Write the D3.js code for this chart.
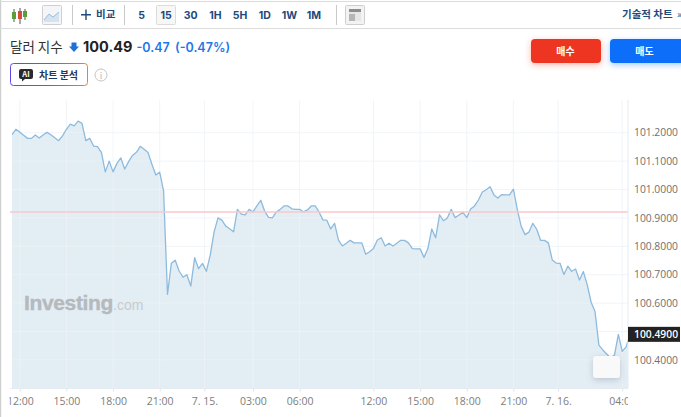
<!DOCTYPE html>
<html><head><meta charset="utf-8">
<script src="https://cdn.jsdelivr.net/npm/d3@7/dist/d3.min.js"></script>
<style>html,body{margin:0;padding:0;background:#fff;overflow:hidden}svg{display:block}
text{font-family:"Noto Sans CJK KR","Noto Sans",sans-serif}</style>
</head><body><div id="c"></div>
<script>
const prices=[101.193,101.212,101.202,101.191,101.180,101.180,101.192,101.181,101.192,101.201,101.193,101.182,101.172,101.189,101.212,101.230,101.224,101.241,101.233,101.172,101.180,101.153,101.151,101.131,101.062,101.100,101.062,101.092,101.111,101.072,101.098,101.120,101.131,101.152,101.142,101.130,101.089,101.051,101.061,100.995,100.631,
100.740,100.751,100.713,100.691,100.700,100.660,100.760,100.721,100.740,100.712,100.769,100.851,100.900,100.892,100.871,100.862,100.851,100.930,100.913,100.911,100.930,100.921,100.942,100.962,100.924,100.902,100.900,100.921,100.930,100.942,100.942,100.932,100.930,100.930,100.921,100.928,100.942,100.942,100.921,100.893,100.892,100.861,
100.881,100.822,100.801,100.811,100.821,100.812,100.812,100.812,100.772,100.781,100.792,100.822,100.830,100.801,100.811,100.801,100.811,100.821,100.821,100.812,100.792,100.791,100.791,100.761,100.792,100.861,100.830,100.911,100.890,100.900,100.930,100.901,100.910,100.920,100.901,100.931,100.942,100.963,100.991,100.999,101.010,
100.981,100.970,100.982,100.981,100.981,101.001,100.930,100.871,100.841,100.850,100.881,100.860,100.821,100.821,100.812,100.752,100.741,100.740,100.701,100.730,100.712,100.720,100.681,100.711,100.664,100.603,100.570,100.452,100.435,100.421,100.407,100.417,100.490,100.430,100.446,100.490];
const timeTickIndex=[2,14,26,38,49.5,62,74,93,105,117,129,140.5,157];
const timeTickLabels=["12:00","15:00","18:00","21:00","7. 15.","03:00","06:00","12:00","15:00","18:00","21:00","7. 16.","04:00"];
const priceTicks=[100.4,100.5,100.6,100.7,100.8,100.9,101.0,101.1,101.2];
const hiddenPriceTick=100.5;
const lastPrice=100.49;
const refPrice=100.921;
const periods=["5","15","30","1H","5H","1D","1W","1M"];
const activePeriod="15";
const title="달러 지수", priceText="100.49", changeText="-0.47", changePct="(-0.47%)";

const W=681,H=417;
const svg=d3.select("#c").append("svg").attr("width",W).attr("height",H).attr("viewBox",`0 0 ${W} ${H}`);
const defs=svg.append("defs");
const L=12,R=628,T=100,B=388.5;
defs.append("clipPath").attr("id","plot").append("rect").attr("x",L).attr("y",T).attr("width",R-L).attr("height",B-T);
defs.append("clipPath").attr("id","xl").append("rect").attr("x",9.5).attr("y",388).attr("width",R-9.5).attr("height",29);
const grad=defs.append("linearGradient").attr("id","aiG").attr("gradientUnits","userSpaceOnUse").attr("x1",10).attr("x2",88).attr("y1",75).attr("y2",75);
grad.append("stop").attr("offset",0).attr("stop-color","#5b4be8");
grad.append("stop").attr("offset",.5).attr("stop-color","#c4389a");
grad.append("stop").attr("offset",1).attr("stop-color","#f5821f");
const sh=(id,c)=>{const f=defs.append("filter").attr("id",id).attr("x","-30%").attr("y","-40%").attr("width","160%").attr("height","200%");
 f.append("feDropShadow").attr("dx",0).attr("dy",2).attr("stdDeviation",3).attr("flood-color",c).attr("flood-opacity",.35);};
sh("sr","#ee3524");sh("sb","#0a6efa");sh("sg","#6b7b8c");

const x=d3.scaleLinear().domain([0,prices.length-1]).range([12,630]);
const y=d3.scaleLinear().domain([100.4,101.2]).range([359.9,132.7]);

// frame
const frame=svg.append("g");
frame.append("rect").attr("x",0).attr("y",0).attr("width",1.2).attr("height",H).attr("fill","#cfcfcf");
frame.append("rect").attr("x",0).attr("y",1).attr("width",W).attr("height",1).attr("fill","#dcdcdc");
frame.append("rect").attr("x",0).attr("y",28).attr("width",W).attr("height",1).attr("fill","#dcdcdc");

// plot
const plot=svg.append("g").attr("clip-path","url(#plot)");
plot.append("path").datum(prices).attr("fill","#e3edf4")
  .attr("d",d3.area().x((d,i)=>x(i)).y0(B).y1(d=>y(d)));
const gc="#eef2f6";
plot.selectAll(".gx").data(timeTickIndex).join("line").attr("x1",d=>x(d)).attr("x2",d=>x(d)).attr("y1",T).attr("y2",B).attr("stroke",gc).attr("stroke-width",.8);
plot.selectAll(".gy").data(priceTicks).join("line").attr("x1",L).attr("x2",R).attr("y1",d=>y(d)).attr("y2",d=>y(d)).attr("stroke",gc).attr("stroke-width",.8);
plot.append("path").datum(prices).attr("fill","none").attr("stroke","#8dbbdd").attr("stroke-width",1.3).attr("stroke-linejoin","round")
  .attr("d",d3.line().x((d,i)=>x(i)).y(d=>y(d)));

// reference line
svg.append("line").attr("x1",10).attr("x2",R).attr("y1",y(refPrice)).attr("y2",y(refPrice)).attr("stroke","#f9c9cb").attr("stroke-width",1.5);

// axes
const xClip=svg.append("g").attr("clip-path","url(#xl)");
const xAxis=xClip.append("g").attr("transform",`translate(0,${B})`)
 .call(d3.axisBottom(x).tickValues(timeTickIndex).tickFormat((d,i)=>timeTickLabels[i]).tickSize(3).tickPadding(6.5));
xAxis.select(".domain").remove();
xAxis.selectAll("line").attr("stroke","#dfe5ec");
xAxis.selectAll("text").attr("fill","#7d7d7d").attr("font-size",10.5).style("font-family","'Open Sans',sans-serif");
svg.append("line").attr("x1",10).attr("x2",R).attr("y1",B).attr("y2",B).attr("stroke","#e6ebf2");
const yAxis=svg.append("g").attr("transform",`translate(${R},0)`)
 .call(d3.axisRight(y).tickValues(priceTicks.filter(d=>d!==hiddenPriceTick)).tickFormat(d3.format(".4f")).tickSize(0).tickPadding(6));
yAxis.select(".domain").remove();
yAxis.selectAll("text").attr("fill","#6f6f6f").attr("font-size",10.3).style("font-family","'Open Sans',sans-serif");
svg.append("line").attr("x1",R).attr("x2",R).attr("y1",T).attr("y2",B).attr("stroke","#e6ebf2");
svg.append("rect").attr("x",R).attr("y",y(lastPrice)-7.5).attr("width",52).attr("height",15).attr("fill","#222");
svg.append("text").attr("x",634).attr("y",y(lastPrice)+3.7).attr("fill","#fff").attr("font-size",10.3).attr("font-weight",600).style("font-family","'Open Sans',sans-serif").text(d3.format(".4f")(lastPrice));

// small overlay box
svg.append("rect").attr("x",593).attr("y",356).attr("width",27).attr("height",22).attr("rx",3).attr("fill","#f9f9f9").attr("filter","url(#sg)");

// watermark
const wm=svg.append("text").attr("x",24).attr("y",310).style("font-family","'Liberation Sans',sans-serif");
wm.append("tspan").attr("font-size",21).attr("font-weight",700).attr("fill","#b4babe").attr("letter-spacing",-.35).attr("stroke","#b4babe").attr("stroke-width",.4).text("Investing");
wm.append("tspan").attr("font-size",14).attr("fill","#c6cbcf").text(".com");

// toolbar
const tb=svg.append("g");
[[15,9,20,"#b8b8b8","#5a9e3a",12,17],[21,8,22,"#b8b8b8","#d84b3a",11,17],[26,9,18,"#b8b8b8","#5a9e3a",11,15]].forEach(([cx,a,b,c,f,t,h])=>{
 tb.append("line").attr("x1",cx-1).attr("x2",cx-1).attr("y1",a).attr("y2",b+2).attr("stroke","#555");
 tb.append("rect").attr("x",cx-3).attr("y",t).attr("width",4).attr("height",h-t+2).attr("fill",f);
});
tb.append("rect").attr("x",42.5).attr("y",5.5).attr("width",19).attr("height",19).attr("rx",1).attr("fill","#f3f5f8").attr("stroke","#cfcfcf");
tb.append("path").attr("d","M44 20L49 14L53 17L59 12V22H44Z").attr("fill","#d5e2ef");
tb.append("path").attr("d","M44 20L49 14L53 17L59 12").attr("fill","none").attr("stroke","#9dbcd9");
[72,124,336].forEach(v=>tb.append("line").attr("x1",v+.5).attr("x2",v+.5).attr("y1",5).attr("y2",25).attr("stroke","#c9c9c9"));
tb.append("path").attr("d","M86 9.5V20M81 14.7H91").attr("stroke","#1d4a7c").attr("stroke-width",1.4).attr("fill","none");
tb.append("text").attr("x",96).attr("y",18).attr("font-size",10.5).attr("font-weight",700).attr("fill","#1d4a7c").text("비교");
tb.append("rect").attr("x",156.5).attr("y",5.5).attr("width",19).attr("height",19).attr("rx",1).attr("fill","#f7f7f7").attr("stroke","#dcdcdc");
const periodX=d3.scalePoint().domain(periods).range([141.5,314]);
tb.selectAll(".p").data(periods).join("text").attr("x",d=>periodX(d)).attr("y",18.5).attr("text-anchor","middle")
 .attr("font-size",10.5).attr("font-weight",700).attr("fill","#1d4a7c").style("font-family","Inter,sans-serif").text(d=>d);
tb.append("rect").attr("x",345.5).attr("y",5.5).attr("width",19).attr("height",19).attr("rx",1).attr("fill","#f3f3f3").attr("stroke","#cfcfcf");
tb.append("rect").attr("x",349).attr("y",9).attr("width",12).attr("height",12).attr("fill","#e6e6e6");
tb.append("rect").attr("x",349).attr("y",9).attr("width",12).attr("height",3).attr("fill","#8d8d8d");
tb.append("rect").attr("x",349).attr("y",14).attr("width",6).attr("height",7).attr("fill","#b5b5b5");
tb.append("text").attr("x",622).attr("y",18).attr("font-size",10.5).attr("font-weight",700).attr("fill","#1d4a7c").text("기술적 차트");
tb.append("text").attr("x",677).attr("y",18).attr("font-size",10).attr("fill","#1d4a7c").text("»");

// header
const hd=svg.append("g");
hd.append("text").attr("x",10).attr("y",52).attr("font-size",13.5).attr("fill","#333").text(title);
hd.append("path").attr("d","M71.5 42.5h5v4h2.5l-5 5.5l-5-5.5h2.5z").attr("fill","#1f6fd6");
hd.append("text").attr("x",83).attr("y",52).attr("font-size",14.5).attr("font-weight",700).attr("fill","#222").style("font-family","Inter,sans-serif").text(priceText);
hd.append("text").attr("x",136.5).attr("y",52).attr("font-size",12.5).attr("font-weight",600).attr("fill","#1f77e8").style("font-family","Inter,sans-serif").text(changeText);
hd.append("text").attr("x",175).attr("y",52).attr("font-size",12.5).attr("font-weight",600).attr("fill","#1f77e8").style("font-family","Inter,sans-serif").text(changePct);

hd.append("rect").attr("x",10.5).attr("y",63.5).attr("width",77).attr("height",22).attr("rx",3).attr("fill","#fff").attr("stroke","url(#aiG)");
hd.append("path").attr("d","M21 69h10a2 2 0 0 1 2 2v6a2 2 0 0 1-2 2h-6l-3 2.5v-2.5h-1a2 2 0 0 1-2-2v-6a2 2 0 0 1 2-2z").attr("fill","#2a2a2a");
hd.append("text").attr("x",26).attr("y",77).attr("text-anchor","middle").attr("font-size",7.5).attr("font-weight",700).attr("fill","#fff").text("AI");
hd.append("text").attr("x",39).attr("y",78.5).attr("font-size",10).attr("font-weight",700).attr("fill","#1d3a5c").text("차트 분석");
hd.append("circle").attr("cx",101).attr("cy",75).attr("r",6).attr("fill","#fff").attr("stroke","#c4c4c4");
hd.append("text").attr("x",101).attr("y",78.5).attr("text-anchor","middle").attr("font-size",9).attr("fill","#b5b5b5").text("i");

hd.append("rect").attr("x",531).attr("y",39).attr("width",70).attr("height",24).attr("rx",4).attr("fill","#ee3524").attr("filter","url(#sr)");
hd.append("text").attr("x",565.5).attr("y",55).attr("text-anchor","middle").attr("font-size",10).attr("font-weight",700).attr("fill","#fff").text("매수");
hd.append("rect").attr("x",610).attr("y",39).attr("width",75).attr("height",24).attr("rx",4).attr("fill","#0a6efa").attr("filter","url(#sb)");
hd.append("text").attr("x",644.5).attr("y",55).attr("text-anchor","middle").attr("font-size",10).attr("font-weight",700).attr("fill","#fff").text("매도");
</script></body></html>
